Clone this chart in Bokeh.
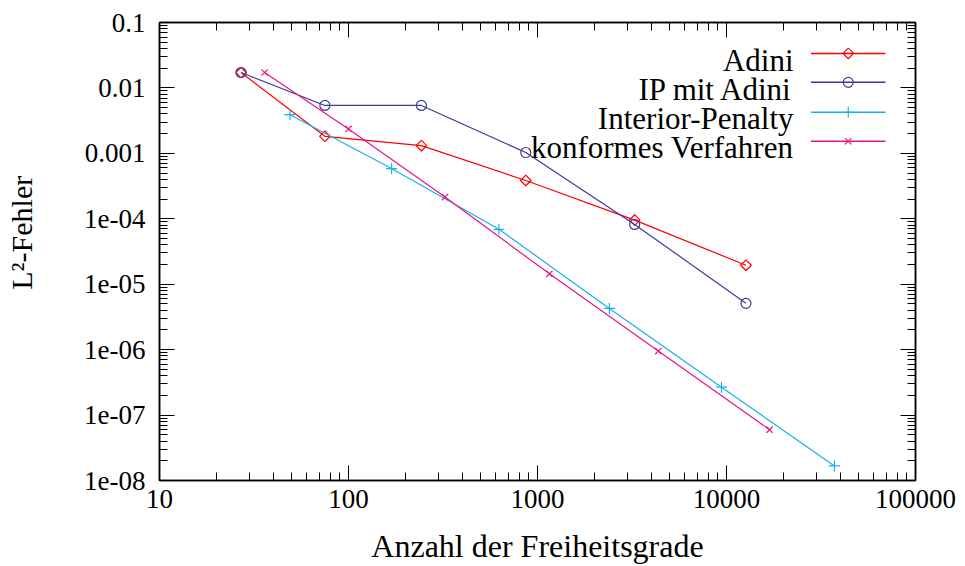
import numpy as np
from bokeh.plotting import figure
from bokeh.models import LogAxis, FixedTicker, Label, Range1d, LinearScale
from bokeh.embed import file_html
from bokeh.resources import INLINE

# ---- data ----
dof_adini = [27, 75, 243, 867, 3267, 12675]
err_adini = [0.0172, 0.00182, 0.00131, 3.85e-4, 9.55e-5, 1.95e-5]

dof_ip_adini = [27, 75, 243, 867, 3267, 12675]
err_ip_adini = [0.0172, 0.0054, 0.0054, 1.03e-3, 8.2e-5, 5.1e-6]

dof_ip = [49, 169, 625, 2401, 9409, 37249]
err_ip = [3.9e-3, 5.86e-4, 6.9e-5, 4.27e-6, 2.67e-7, 1.67e-8]

dof_konf = [36, 100, 324, 1156, 4356, 16900]
err_konf = [0.0172, 2.36e-3, 2.15e-4, 1.44e-5, 9.5e-7, 5.97e-8]

series_names = ["Adini", "IP mit Adini", "Interior-Penalty", "konformes Verfahren"]

x_ticks = [10, 100, 1000, 10000, 100000]
x_tick_labels = ["10", "100", "1000", "10000", "100000"]
y_ticks = [1e-8, 1e-7, 1e-6, 1e-5, 1e-4, 1e-3, 1e-2, 1e-1]
y_tick_labels = ["1e-08", "1e-07", "1e-06", "1e-05", "1e-04", "0.001", "0.01", "0.1"]

x_label = "Anzahl der Freiheitsgrade"
y_label = "L\u00b2-Fehler"

FONT = '"Liberation Serif", serif'

def minor_of(ticks):
    out = []
    for t in ticks[:-1]:
        out += [t * m for m in range(2, 10)]
    return out

FW, FH = 756, 459
p = figure(width=965, height=566, x_axis_type="log", y_axis_type="log",
           x_range=(x_ticks[0], x_ticks[-1]), y_range=(y_ticks[0], y_ticks[-1]),
           output_backend="svg", toolbar_location=None,
           min_border_left=159, min_border_right=50, min_border_top=22,
           min_border_bottom=85)
p.xgrid.visible = False
p.ygrid.visible = False
p.outline_line_color = "black"
p.outline_line_width = 1.5
p.background_fill_color = "white"
p.border_fill_color = "white"

# pixel-space range used only for placing the key
p.extra_x_ranges = {"px": Range1d(0, FW)}
p.extra_y_ranges = {"px": Range1d(0, FH)}
p.extra_x_scales = {"px": LinearScale()}
p.extra_y_scales = {"px": LinearScale()}

def style_axis(ax, ticker, labels, show):
    ax.ticker = ticker
    ax.major_tick_in = 15
    ax.major_tick_out = 0
    ax.minor_tick_in = 8
    ax.minor_tick_out = 0
    ax.major_tick_line_color = "black"
    ax.minor_tick_line_color = "black"
    ax.major_tick_line_width = 1
    ax.minor_tick_line_width = 1
    ax.axis_line_color = "black"
    ax.axis_line_width = 1.5
    ax.major_label_overrides = {t: l for t, l in zip(ticker.ticks, labels)}
    if show:
        ax.major_label_text_font = FONT
        ax.major_label_text_font_size = "27px"
        ax.major_label_text_color = "black"
    else:
        ax.major_label_text_font_size = "6px"
        ax.major_label_text_alpha = 0
        ax.major_label_standoff = 0

xa = p.xaxis[0]
ya = p.yaxis[0]
style_axis(xa, FixedTicker(ticks=x_ticks, minor_ticks=minor_of(x_ticks)), x_tick_labels, True)
style_axis(ya, FixedTicker(ticks=y_ticks, minor_ticks=minor_of(y_ticks)), y_tick_labels, True)
xa.major_label_standoff = 9
ya.major_label_standoff = 14

xa.axis_label = x_label
ya.axis_label = "\u00a0" * 5 + y_label
for ax, st, fs in ((xa, 17, "32px"), (ya, 43, "30px")):
    ax.axis_label_text_font = FONT
    ax.axis_label_text_font_size = fs
    ax.axis_label_text_font_style = "normal"
    ax.axis_label_text_color = "black"
    ax.axis_label_standoff = st

top = LogAxis()
style_axis(top, FixedTicker(ticks=x_ticks, minor_ticks=minor_of(x_ticks)), x_tick_labels, False)
p.add_layout(top, "above")
right = LogAxis()
style_axis(right, FixedTicker(ticks=y_ticks, minor_ticks=minor_of(y_ticks)), y_tick_labels, False)
p.add_layout(right, "right")

colors = ["#ff0000", "#3c3c9c", "#18b0ec", "#e6168c"]
data = [(dof_adini, err_adini), (dof_ip_adini, err_ip_adini), (dof_ip, err_ip), (dof_konf, err_konf)]
markers = [("square", 7.5, np.pi / 4), ("circle", 10, 0), ("cross", 11, 0), ("x", 9, 0)]

# key layout (pixels inside the frame, from its bottom-left)
key_x0, key_x1, key_text_x = 651.5, 726, 634
key_rows = [428, 399, 369, 340]
key_base = [420, 391, 362, 333]

for (xs, ys), c, (mk, sz, ang), name, ky, kb in zip(data, colors, markers, series_names,
                                                     key_rows, key_base):
    p.line(xs, ys, line_color=c, line_width=1.2)
    p.scatter(xs, ys, marker=mk, size=sz, angle=ang, line_color=c,
              fill_color=None, line_width=1.2)
    p.line([key_x0, key_x1], [ky, ky], line_color=c, line_width=1.5,
           x_range_name="px", y_range_name="px")
    p.scatter([(key_x0 + key_x1) / 2], [ky], marker=mk, size=sz, angle=ang,
              line_color=c, fill_color=None, line_width=1.2,
              x_range_name="px", y_range_name="px")
    p.add_layout(Label(x=key_text_x, y=kb, x_units="screen", y_units="screen", text=name,
                       text_align="right", text_baseline="alphabetic",
                       text_font=FONT, text_font_size="31px", text_color="black"))

open("out.html", "w").write(file_html(p, INLINE))
